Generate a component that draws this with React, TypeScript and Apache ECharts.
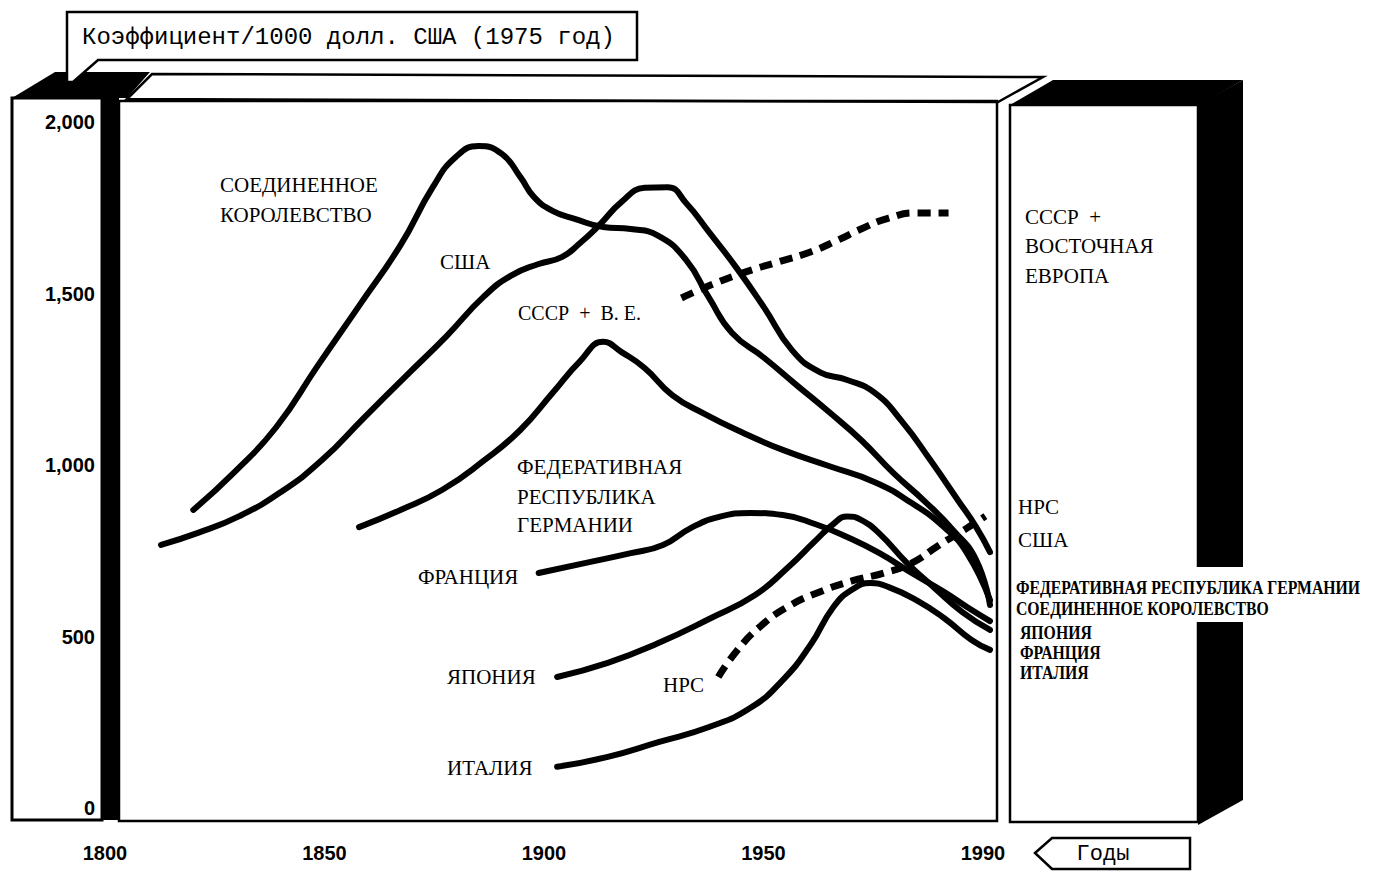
import React, { useEffect, useRef } from 'react';
import * as echarts from 'echarts';

// ---- tick labels ----
const YEAR_LABELS = ['1800', '1850', '1900', '1950', '1990'];
const YEAR_MIN = 1800;
const YEAR_MAX = 1990;
const VALUE_MIN = 0;
const VALUE_MAX = 2000;
const VALUE_STEP = 500;

// ---- series: [year, coefficient per 1000 USD (1975)] ----
const UK: [number, number][] = [
  [1817, 869], [1826, 980], [1835, 1110], [1844, 1289], [1853, 1464], [1862, 1641], [1869, 1810],
  [1874, 1898], [1879, 1930], [1884, 1907], [1888, 1840], [1891, 1781], [1895, 1741], [1900, 1717],
  [1906, 1694], [1912, 1688], [1918, 1668], [1924, 1598], [1929, 1487], [1934, 1385], [1941, 1312],
  [1948, 1233], [1955, 1155], [1962, 1073], [1969, 977], [1976, 892], [1982, 810], [1987, 723],
  [1990, 592],
];
const USA: [number, number][] = [
  [1810, 767], [1818, 802], [1827, 851], [1836, 921], [1845, 1015], [1854, 1137], [1863, 1257],
  [1872, 1376], [1880, 1490], [1886, 1552], [1892, 1586], [1897, 1606], [1901, 1647], [1905, 1697],
  [1910, 1767], [1915, 1808], [1920, 1810], [1924, 1764], [1929, 1679], [1935, 1574], [1941, 1458],
  [1947, 1335], [1953, 1271], [1959, 1248], [1965, 1210], [1971, 1125], [1977, 1015], [1983, 898],
  [1987, 819], [1990, 746],
];
const FRG: [number, number][] = [
  [1853, 819], [1862, 869], [1871, 927], [1880, 1012], [1888, 1102], [1895, 1210], [1901, 1303],
  [1906, 1359], [1910, 1329], [1915, 1283], [1921, 1204], [1928, 1149], [1936, 1096], [1945, 1044],
  [1955, 997], [1965, 950], [1973, 889], [1980, 819], [1985, 743], [1990, 606],
];
const FRANCE: [number, number][] = [
  [1892, 685], [1902, 714], [1912, 743], [1919, 767], [1925, 816], [1931, 848], [1938, 860],
  [1945, 854], [1952, 828], [1959, 790], [1966, 743], [1973, 685], [1980, 630], [1985, 586],
  [1990, 545],
];
const JAPAN: [number, number][] = [
  [1896, 382], [1907, 423], [1918, 481], [1929, 551], [1939, 621], [1946, 700], [1952, 778],
  [1956, 828], [1959, 850], [1962, 840], [1966, 800], [1972, 714], [1978, 641], [1984, 571],
  [1990, 519],
];
const ITALY: [number, number][] = [
  [1896, 120], [1907, 149], [1918, 192], [1929, 236], [1938, 292], [1945, 373], [1951, 475],
  [1956, 586], [1960, 636], [1964, 656], [1968, 644], [1974, 606], [1980, 554], [1986, 490],
  [1990, 461],
];
const USSR_EE: [number, number][] = [
  [1923, 1487], [1930, 1528], [1937, 1563], [1944, 1592], [1951, 1621], [1957, 1656], [1962, 1688],
  [1968, 1720], [1974, 1735], [1981, 1735],
];
const CHINA: [number, number][] = [
  [1931, 382], [1935, 458], [1940, 528], [1946, 586], [1953, 630], [1960, 662], [1967, 685],
  [1973, 714], [1979, 767], [1985, 816], [1989, 851],
];

const SERIF = '"Liberation Serif", "DejaVu Serif", serif';
const SANS = '"Liberation Sans", Arial, sans-serif';
const MONO = '"Liberation Mono", "DejaVu Sans Mono", monospace';

function lineSeries(name: string, data: [number, number][], dashed = false) {
  return {
    type: 'line',
    name,
    data,
    xAxisIndex: 0,
    yAxisIndex: 0,
    smooth: 0.5,
    symbol: 'none',
    showSymbol: false,
    silent: true,
    z: 5,
    lineStyle: {
      color: '#000',
      width: dashed ? 7 : 6,
      type: dashed ? [13, 8] : 'solid',
      cap: dashed ? 'butt' : 'round',
      join: 'round',
    },
  };
}

function label(text: string, x: number, y: number, font: string, scaleX = 1) {
  return {
    type: 'text',
    x,
    y,
    scaleX,
    z: 50,
    style: { text, font, fill: '#000', textAlign: 'left', textVerticalAlign: 'middle' },
  };
}

export default function App() {
  const ref = useRef<HTMLDivElement>(null);
  useEffect(() => {
    document.body.style.margin = '0';
    const chart = echarts.init(ref.current!, null, { renderer: 'svg' });
    const plotFont = `21px ${SERIF}`;
    const boldFont = `bold 19px ${SERIF}`;
    const stroke = { stroke: '#000', lineWidth: 2.5 };
    const option = {
      animation: false,
      backgroundColor: '#fff',
      grid: [
        { left: 115, right: 1373 - 990, top: 122, bottom: 872 - 808 },
        { left: 105, right: 1373 - 983, top: 800, bottom: 872 - 835 },
      ],
      xAxis: [
        { type: 'value', gridIndex: 0, min: YEAR_MIN, max: YEAR_MAX, show: false },
        {
          type: 'category', gridIndex: 1, data: YEAR_LABELS, boundaryGap: false,
          axisLine: { show: false }, axisTick: { show: false }, splitLine: { show: false },
          axisLabel: { interval: 0, margin: 8, color: '#000', fontFamily: SANS, fontWeight: 'bold', fontSize: 20 },
        },
      ],
      yAxis: [
        {
          type: 'value', gridIndex: 0, min: VALUE_MIN, max: VALUE_MAX, interval: VALUE_STEP,
          axisLine: { show: false }, axisTick: { show: false }, splitLine: { show: false },
          axisLabel: {
            margin: 20, color: '#000', fontFamily: SANS, fontWeight: 'bold', fontSize: 20,
            formatter: (v: number) => v.toLocaleString('en-US'),
          },
        },
        { type: 'value', gridIndex: 1, show: false },
      ],
      series: [
        lineSeries('СОЕДИНЕННОЕ КОРОЛЕВСТВО', UK),
        lineSeries('США', USA),
        lineSeries('ФЕДЕРАТИВНАЯ РЕСПУБЛИКА ГЕРМАНИИ', FRG),
        lineSeries('ФРАНЦИЯ', FRANCE),
        lineSeries('ЯПОНИЯ', JAPAN),
        lineSeries('ИТАЛИЯ', ITALY),
        lineSeries('СССР + В.Е.', USSR_EE, true),
        lineSeries('НРС', CHINA, true),
      ],
      graphic: [
        // left axis panel
        { type: 'rect', z: 0, shape: { x: 12, y: 98, width: 90, height: 722 }, style: { fill: '#fff', stroke: '#000', lineWidth: 3 } },
        { type: 'rect', z: 1, shape: { x: 102, y: 98, width: 17, height: 722 }, style: { fill: '#000' } },
        { type: 'polygon', z: 1, shape: { points: [[12, 98], [55, 72], [150, 72], [127, 98]] }, style: { fill: '#000' } },
        // main panel top face & front
        { type: 'polygon', z: 1, shape: { points: [[127, 99], [152, 74], [1043, 77], [998, 102]] }, style: { fill: '#fff', ...stroke } },
        { type: 'rect', z: 1, shape: { x: 119, y: 101, width: 878, height: 720 }, style: { fill: 'none', ...stroke } },
        // title callout
        { type: 'polygon', z: 2, shape: { points: [[67, 12], [637, 12], [637, 60], [98, 60], [73, 82], [67, 82]] }, style: { fill: '#fff', ...stroke } },
        { type: 'text', z: 50, x: 82, y: 37, style: { text: 'Коэффициент/1000 долл. США (1975 год)', font: `24px ${MONO}`, fill: '#000', textAlign: 'left', textVerticalAlign: 'middle' } },
        // right panel
        { type: 'rect', z: 0, shape: { x: 1010, y: 105, width: 188, height: 717 }, style: { fill: '#fff', ...stroke } },
        { type: 'polygon', z: 1, shape: { points: [[1010, 105], [1053, 80], [1243, 80], [1198, 105]] }, style: { fill: '#000' } },
        { type: 'polygon', z: 1, shape: { points: [[1198, 104], [1243, 80], [1243, 567], [1198, 567]] }, style: { fill: '#000' } },
        { type: 'polygon', z: 1, shape: { points: [[1198, 622], [1243, 622], [1243, 800], [1198, 825]] }, style: { fill: '#000' } },
        { type: 'rect', z: 1, shape: { x: 1195, y: 567, width: 50, height: 55 }, style: { fill: '#fff' } },
        // years tag
        { type: 'polygon', z: 2, shape: { points: [[1035, 853], [1052, 838], [1190, 838], [1190, 869], [1052, 869]] }, style: { fill: '#fff', ...stroke } },
        { type: 'text', z: 50, x: 1103, y: 854, style: { text: 'Годы', font: `22px ${MONO}`, fill: '#000', textAlign: 'center', textVerticalAlign: 'middle' } },
        // in-plot labels
        label('СОЕДИНЕННОЕ', 220, 185, plotFont),
        label('КОРОЛЕВСТВО', 220, 215, plotFont),
        label('США', 440, 262, plotFont),
        label('СССР  +  В. Е.', 518, 313, `20px ${SERIF}`),
        label('ФЕДЕРАТИВНАЯ', 517, 467, plotFont),
        label('РЕСПУБЛИКА', 517, 497, plotFont),
        label('ГЕРМАНИИ', 517, 525, plotFont),
        label('ФРАНЦИЯ', 418, 577, plotFont),
        label('ЯПОНИЯ', 447, 677, plotFont),
        label('НРС', 663, 685, plotFont),
        label('ИТАЛИЯ', 447, 768, plotFont),
        // right panel labels
        label('СССР  +', 1025, 217, plotFont),
        label('ВОСТОЧНАЯ', 1025, 246, plotFont),
        label('ЕВРОПА', 1025, 276, plotFont),
        label('НРС', 1018, 507, plotFont),
        label('США', 1018, 540, plotFont),
        label('ФЕДЕРАТИВНАЯ РЕСПУБЛИКА ГЕРМАНИИ', 1016, 587, boldFont, 0.83),
        label('СОЕДИНЕННОЕ КОРОЛЕВСТВО', 1016, 608, boldFont, 0.83),
        label('ЯПОНИЯ', 1020, 632, boldFont, 0.83),
        label('ФРАНЦИЯ', 1020, 652, boldFont, 0.83),
        label('ИТАЛИЯ', 1020, 672, boldFont, 0.83),
      ],
    };
    chart.setOption(option as any);
    return () => chart.dispose();
  }, []);
  return <div ref={ref} style={{ width: 1373, height: 872 }} />;
}
